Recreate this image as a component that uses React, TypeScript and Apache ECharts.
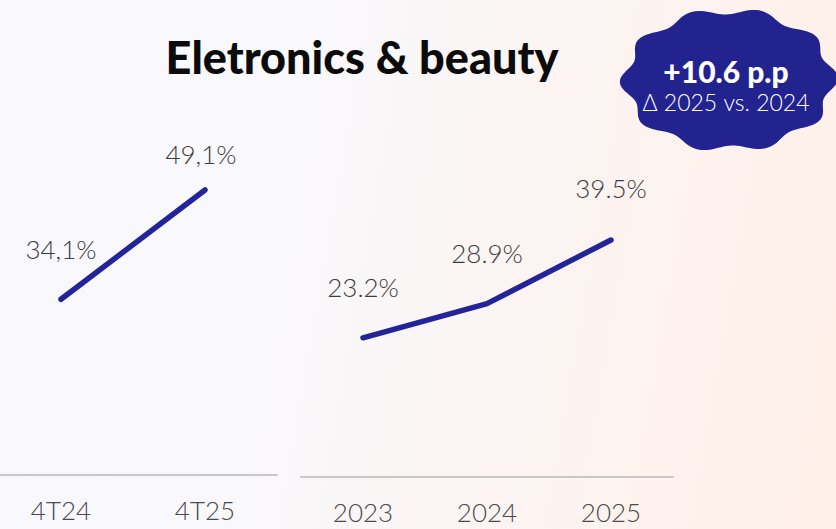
import React, { useEffect, useRef } from "react";
import * as echarts from "echarts";

const TITLE = "Eletronics & beauty";
const quarterCategories = ["4T24", "4T25"];
const quarterValues = [34.1, 49.1];
const yearCategories = ["2023", "2024", "2025"];
const yearValues = [23.2, 28.9, 39.5];
const badgeMain = "+10.6 p.p";
const badgeSub = "Δ 2025 vs. 2024";

const quarterLabelDistance = [37, 22];
const quarterLabelOffsetX = [0, -4];
const yearLabelDistance = [37, 37, 39];

const LINE_COLOR = "#24249a";
const BADGE_COLOR = "#22238f";
const LABEL_FONT = "Lato, 'Open Sans', sans-serif";

function badgePoints(cx: number, cy: number, rx: number, ry: number, lobes: number, amp: number) {
  const pts: number[][] = [];
  const n = 240;
  for (let i = 0; i < n; i++) {
    const t = (i / n) * Math.PI * 2;
    const k = 1 + amp * Math.cos(lobes * t + 0.3);
    pts.push([cx + rx * k * Math.cos(t), cy + ry * k * Math.sin(t)]);
  }
  return pts;
}

export default function App() {
  const ref = useRef<HTMLDivElement>(null);

  useEffect(() => {
    if (!ref.current) return;
    document.body.style.margin = "0";
    const chart = echarts.init(ref.current, undefined, { renderer: "svg" });

    const labelBase = {
      show: true,
      position: "top" as const,
      fontSize: 26,
      fontFamily: LABEL_FONT,
      fontWeight: 300 as any,
      color: "#3c3c3c",
    };

    const axisCommon = {
      type: "category" as const,
      boundaryGap: true,
      axisLine: { show: true, lineStyle: { color: "#c8c8c8", width: 2 } },
      axisTick: { show: false },
      splitLine: { show: false },
      axisLabel: {
        fontSize: 26,
        fontFamily: LABEL_FONT,
        fontWeight: 300 as any,
        color: "#4a4a4a",
        margin: 22,
      },
    };

    const seriesCommon = {
      type: "line" as const,
      showSymbol: true,
      symbol: "circle",
      symbolSize: 1,
      itemStyle: { color: "rgba(0,0,0,0)" },
      lineStyle: { color: LINE_COLOR, width: 5.5, cap: "round", join: "round" },
      emphasis: { disabled: true },
    };

    const option: any = {
      animation: false,
      backgroundColor: "transparent",
      grid: [
        { left: -11, width: 288, top: 110.5, height: 364.5, containLabel: false, outerBoundsMode: "none" },
        { left: 301, width: 372, top: 117, height: 360, containLabel: false, outerBoundsMode: "none" },
      ],
      xAxis: [
        { ...axisCommon, gridIndex: 0, data: quarterCategories },
        { ...axisCommon, gridIndex: 1, data: yearCategories },
      ],
      yAxis: [
        { type: "value", gridIndex: 0, min: 10, max: 60, show: false },
        { type: "value", gridIndex: 1, min: 0, max: 60, show: false },
      ],
      series: [
        {
          ...seriesCommon,
          xAxisIndex: 0,
          yAxisIndex: 0,
          label: {
            ...labelBase,
            formatter: (p: any) => Number(p.value).toFixed(1).replace(".", ",") + "%",
          },
          data: quarterValues.map((v, i) => ({
            value: v,
            label: { distance: quarterLabelDistance[i], offset: [quarterLabelOffsetX[i], 0] },
          })),
        },
        {
          ...seriesCommon,
          xAxisIndex: 1,
          yAxisIndex: 1,
          label: {
            ...labelBase,
            formatter: (p: any) => Number(p.value).toFixed(1) + "%",
          },
          data: yearValues.map((v, i) => ({
            value: v,
            label: { distance: yearLabelDistance[i] },
          })),
        },
      ],
      graphic: [
        {
          type: "text",
          x: 362,
          y: 57,
          style: {
            text: TITLE,
            textAlign: "center",
            textVerticalAlign: "middle",
            fontSize: 45,
            fontWeight: 900,
            fontFamily: "Lato, 'Noto Sans', sans-serif",
            fill: "#0b0b0b",
          },
        },
        {
          type: "polygon",
          z: 10,
          shape: { points: badgePoints(729, 80, 104, 69, 10, 0.05) },
          style: { fill: BADGE_COLOR },
        },
        {
          type: "text",
          z: 11,
          x: 726,
          y: 71,
          style: {
            text: badgeMain,
            textAlign: "center",
            textVerticalAlign: "middle",
            fontSize: 30,
            fontWeight: 900,
            fontFamily: "Lato, sans-serif",
            fill: "#ffffff",
          },
        },
        {
          type: "text",
          z: 11,
          x: 726,
          y: 102,
          style: {
            text: badgeSub,
            textAlign: "center",
            textVerticalAlign: "middle",
            fontSize: 23,
            fontWeight: 300,
            fontFamily: "Lato, sans-serif",
            fill: "#ffffff",
          },
        },
      ],
    };

    chart.setOption(option);
    return () => chart.dispose();
  }, []);

  return (
    <div
      ref={ref}
      style={{
        position: "absolute",
        left: 0,
        top: 0,
        width: 836,
        height: 529,
        background: "linear-gradient(100deg, #f8f8fd 0%, #f9f8fb 35%, #fcf3f0 70%, #fff0e9 100%)",
      }}
    />
  );
}
